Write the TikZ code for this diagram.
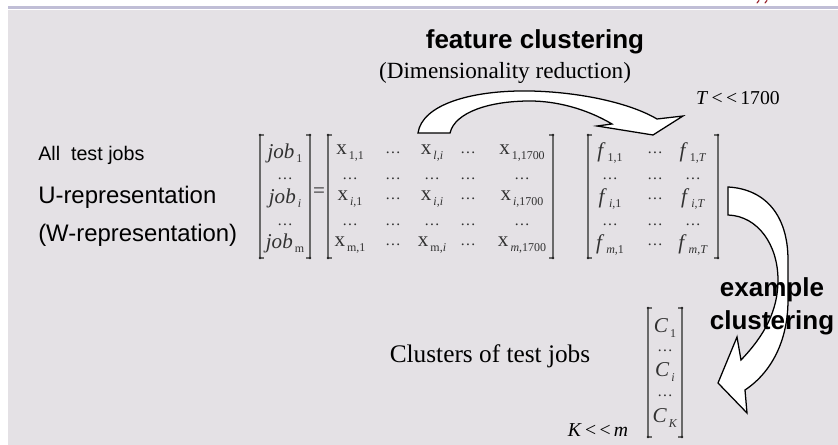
\documentclass[tikz,border=0pt]{standalone}
\usepackage{fontspec}
\setmainfont{Liberation Serif}
\setsansfont{Liberation Sans}
\definecolor{slidebg}{RGB}{228,225,229}
\definecolor{slideline}{RGB}{192,190,214}
\definecolor{brackgray}{RGB}{105,105,105}
\definecolor{entrygray}{RGB}{50,50,50}
\definecolor{titlered}{RGB}{150,30,40}
\tikzset{
  entry/.style={inner sep=0pt, text=entrygray, font=\rmfamily\fontsize{15}{18}\selectfont},
  dotsent/.style={inner sep=0pt, text=entrygray, font=\rmfamily\fontsize{11}{13}\selectfont},
  sidetext/.style={anchor=west, inner sep=0pt, font=\sffamily\fontsize{17}{20}\selectfont},
  headtext/.style={inner sep=0pt, align=center, font=\sffamily\bfseries\fontsize{18.5}{23.5}\selectfont},
  seriftext/.style={inner sep=0pt, font=\rmfamily\fontsize{18}{21}\selectfont},
  boundtext/.style={inner sep=0pt, font=\rmfamily\fontsize{14}{16}\selectfont},
  brack/.style={draw=brackgray, line width=1.1pt},
  bigarrow/.style={fill=white, draw=black, line width=0.9pt, line join=miter},
}
\newcommand{\ent}[2]{#1\raisebox{-0.45ex}{\fontsize{8.5}{9}\selectfont\,#2}}
\newcommand{\dts}{{\fontsize{11}{13}\selectfont .\kern1pt.\kern1pt.}}
% brackets: left x, right x, top y, bottom y
\newcommand{\matbrackets}[4]{%
  \draw[brack] (#1+4,#3) -- (#1,#3) -- (#1,#4) -- (#1+4,#4);
  \draw[brack] (#2-4,#3) -- (#2,#3) -- (#2,#4) -- (#2-4,#4);
  \foreach \cx in {#1,#2} \foreach \cy in {#3,#4} \fill[black!85] (\cx,\cy) circle (0.9pt);
}

\begin{document}
\begin{tikzpicture}[x=0.025cm, y=-0.025cm]
  \useasboundingbox (0,0) rectangle (838,445);
  % slide background
  \fill[slidebg] (8,10) rectangle (838,445);
  \draw[slideline, line width=1.6pt] (8,7.5) -- (838,7.5);
  \draw[titlered, line width=0.8pt, line cap=round] (757,3) -- (759,0.5) (765,3) -- (767,0.5);

  % block arrows
  \draw[bigarrow] (418,133) .. controls (422,105) and (470,90) .. (530,91)
    .. controls (580,92) and (630,103) .. (657,119)
    -- (683,116) -- (653,135) -- (597,126) -- (612,124)
    .. controls (585,108) and (555,101) .. (530,101)
    .. controls (490,101) and (455,112) .. (450,133) -- cycle;
  \draw[bigarrow] (728,187) .. controls (765,189) and (788,215) .. (788,260)
    -- (788,300) .. controls (788,340) and (772,372) .. (745,390)
    -- (747,413) -- (718,383) -- (737,337) -- (741,360)
    .. controls (765,335) and (778,310) .. (778,280)
    .. controls (778,245) and (758,216) .. (728,215) -- cycle;

  % labels
  \node[headtext] (featclus) at (535,42) {feature clustering};
  \node[inner sep=0pt, font=\rmfamily\fontsize{16.5}{19}\selectfont] (dimred) at (505,73) {(Dimensionality reduction)};
  \node[boundtext] (tbound) at (738,98) {\textit{T}\,<\,<\,1700};
  \node[sidetext, font=\sffamily\fontsize{14}{17}\selectfont] (alljobs) at (38,155) {All\ \ test jobs};
  \node[sidetext] (urep) at (38,197) {U-representation};
  \node[sidetext] (wrep) at (38,235) {(W-representation)};
  \node[headtext] (exclus) at (772,306) {example\\clustering};
  \node[seriftext] (clusters) at (490,356) {Clusters of test jobs};
  \node[boundtext] (kbound) at (598,430) {\textit{K}\,<\,<\,\textit{m}};

  % job vector
  \matbrackets{260}{310}{135}{258}
  \foreach \yy/\txt [count=\k] in {153/{\ent{\textit{job}}{1}}, 198/{\ent{\textit{job}}{\textit{i}}}, 243/{\ent{\textit{job}}{m}}}
    \node[entry] (job\k) at (285,\yy) {\txt};
  \foreach \yy [count=\k] in {179,225}
    \node[dotsent] (jobdots\k) at (285,\yy) {\dts};
  \node[entry] (eq) at (319,193) {=};

  % feature matrix x
  \matbrackets{328}{553}{135}{258}
  \foreach \xx/\txt [count=\k] in {350/{\ent{x}{1,1}}, 393/{\dts}, 432/{\ent{x}{\textit{l},\textit{i}}}, 468/{\dts}, 522/{\ent{x}{1,1700}}}
    \node[entry] (xa\k) at (\xx,153) {\txt};
  \foreach \xx/\txt [count=\k] in {350/{\ent{x}{\textit{i},1}}, 393/{\dts}, 432/{\ent{x}{\textit{i},\textit{i}}}, 468/{\dts}, 522/{\ent{x}{\textit{i},1700}}}
    \node[entry] (xb\k) at (\xx,199) {\txt};
  \foreach \xx/\txt [count=\k] in {350/{\ent{x}{m,1}}, 393/{\dts}, 432/{\ent{x}{m,\textit{i}}}, 468/{\dts}, 522/{\ent{x}{\textit{m},1700}}}
    \node[entry] (xc\k) at (\xx,245) {\txt};
  \foreach \xx [count=\k] in {350,393,432,468,522} {
    \node[dotsent] (xdotsa\k) at (\xx,179) {\dts};
    \node[dotsent] (xdotsb\k) at (\xx,225) {\dts};
  }

  % reduced matrix f
  \matbrackets{588}{718}{135}{258}
  \foreach \xx/\txt [count=\k] in {610/{\ent{\textit{f}}{1,1}}, 655/{\dts}, 693/{\ent{\textit{f}}{1,\textit{T}}}}
    \node[entry] (fa\k) at (\xx,153) {\txt};
  \foreach \xx/\txt [count=\k] in {610/{\ent{\textit{f}}{\textit{i},1}}, 655/{\dts}, 693/{\ent{\textit{f}}{\textit{i},\textit{T}}}}
    \node[entry] (fb\k) at (\xx,199) {\txt};
  \foreach \xx/\txt [count=\k] in {610/{\ent{\textit{f}}{\textit{m},1}}, 655/{\dts}, 693/{\ent{\textit{f}}{\textit{m},\textit{T}}}}
    \node[entry] (fc\k) at (\xx,245) {\txt};
  \foreach \xx [count=\k] in {610,655,693} {
    \node[dotsent] (fdotsa\k) at (\xx,179) {\dts};
    \node[dotsent] (fdotsb\k) at (\xx,225) {\dts};
  }

  % cluster vector
  \matbrackets{648}{682}{308}{437}
  \foreach \yy/\txt [count=\k] in {328/{\ent{\textit{C}}{1}}, 372/{\ent{\textit{C}}{\textit{i}}}, 418/{\ent{\textit{C}}{\textit{K}}}}
    \node[entry] (clus\k) at (665,\yy) {\txt};
  \foreach \yy [count=\k] in {351,396}
    \node[dotsent] (clusdots\k) at (665,\yy) {\dts};
\end{tikzpicture}
\end{document}
